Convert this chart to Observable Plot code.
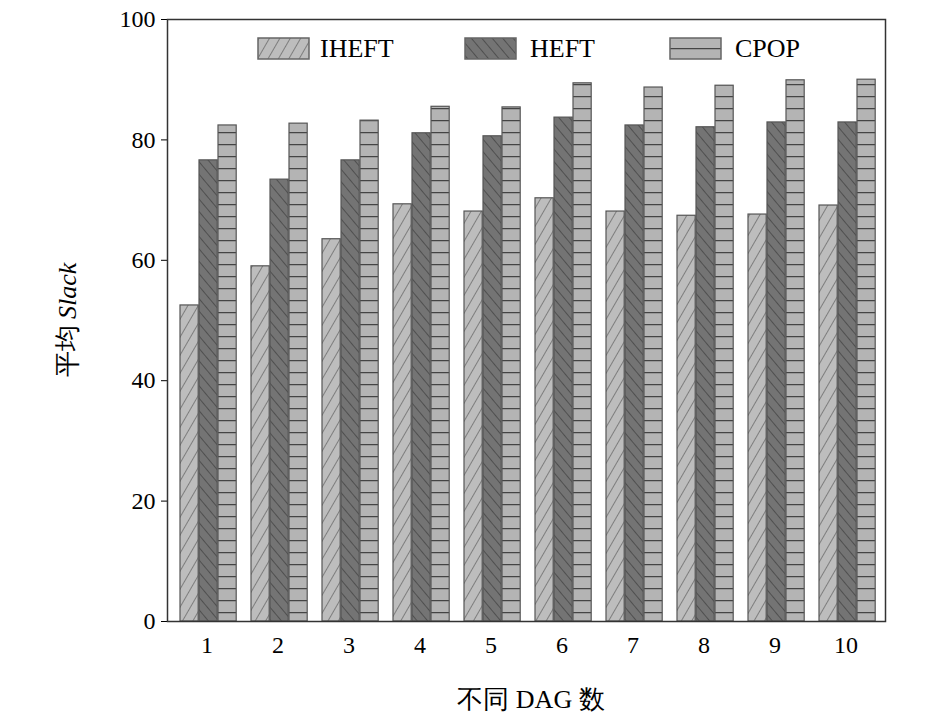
<!DOCTYPE html>
<html><head><meta charset="utf-8">
<script src="https://cdn.jsdelivr.net/npm/d3@7"></script>
<script src="https://cdn.jsdelivr.net/npm/@observablehq/plot@0.6"></script>
<style>body{margin:0;background:#fff}</style>
</head><body>
<svg width="0" height="0" style="position:absolute">
<defs>
<pattern id="pI" patternUnits="userSpaceOnUse" width="9" height="9" patternTransform="rotate(30)">
<rect width="9" height="9" fill="#bdbdbd"/><line x1="0" y1="0" x2="0" y2="9" stroke="#5a5a5a" stroke-width="1.3"/></pattern>
<pattern id="pH" patternUnits="userSpaceOnUse" width="8" height="8" patternTransform="rotate(-40)">
<rect width="8" height="8" fill="#747474"/><line x1="0" y1="0" x2="0" y2="8" stroke="#3a3a3a" stroke-width="1.3"/></pattern>
<pattern id="pC" patternUnits="userSpaceOnUse" width="10" height="12">
<rect width="10" height="12" fill="#b4b4b4"/><line x1="0" y1="0.5" x2="10" y2="0.5" stroke="#444" stroke-width="1.5"/></pattern>
</defs></svg>
<div id="chart"></div>
<script>
const dags = [1,2,3,4,5,6,7,8,9,10];
const series = ["IHEFT","HEFT","CPOP"];
const iheft = [52.5,59,63.5,69.3,68.1,70.3,68.1,67.4,67.6,69.1];
const heft = [76.6,73.4,76.6,81.1,80.6,83.7,82.4,82.1,82.9,82.9];
const cpop = [82.4,82.7,83.2,85.5,85.4,89.4,88.7,89,89.9,90];
const fills = {IHEFT:"url(#pI)",HEFT:"url(#pH)",CPOP:"url(#pC)"};
const vals = {IHEFT:iheft,HEFT:heft,CPOP:cpop};
const insets = {IHEFT:[9,43.8],HEFT:[28,24.8],CPOP:[47,5.8]};
const font = "'Liberation Serif','Times New Roman',serif";
const plot = Plot.plot({
  width:945,height:723,marginLeft:167,marginRight:60,marginTop:19,marginBottom:102,
  style:{fontFamily:font,fontSize:"24px",color:"#000",background:"#fff"},
  x:{domain:dags,padding:0,label:null,tickSize:0,tickPadding:14},
  y:{domain:[0,100],ticks:[0,20,40,60,80,100],label:null,tickSize:6,tickPadding:6},
  marks:[
    ...series.map(s=>Plot.barY(dags.map((d,i)=>({dag:d,v:vals[s][i]})),{x:"dag",y:"v",fill:fills[s],stroke:"#555",strokeWidth:1.2,insetLeft:insets[s][0],insetRight:insets[s][1]})),
    Plot.frame({stroke:"#333",strokeWidth:1.5})
  ]
});
document.getElementById("chart").append(plot);
const svg = d3.select(plot);
svg.selectAll("g[aria-label='x-axis tick label'], g[aria-label='y-axis tick label']").attr("font-size",24);
const lg = [[258,320],[465,530],[670,735]];
series.forEach((s,i)=>{
  svg.append("rect").attr("x",lg[i][0]).attr("y",38).attr("width",51).attr("height",21)
    .attr("fill",fills[s]).attr("stroke","#666").attr("stroke-width",1.5);
  svg.append("text").attr("x",lg[i][1]).attr("y",57).attr("text-anchor","start").attr("font-family",font).attr("font-size",26).text(s);
});
svg.append("text").attr("x",531).attr("y",708).attr("text-anchor","middle")
  .attr("font-family",font).attr("font-size",26).text("不同 DAG 数");
const yl = svg.append("text").attr("transform","translate(76,320) rotate(-90)").attr("text-anchor","middle")
  .attr("font-family",font).attr("font-size",26);
yl.append("tspan").text("平均 ");
yl.append("tspan").attr("font-style","italic").text("Slack");
</script>
</body></html>
